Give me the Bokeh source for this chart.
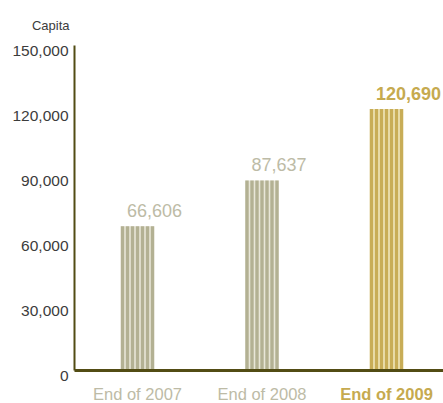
from bokeh.plotting import figure
from bokeh.models import ColumnDataSource, Range1d, Label
from bokeh.transform import dodge
from bokeh.embed import file_html
from bokeh.resources import INLINE

# ---- data ----
categories = ["End of 2007", "End of 2008", "End of 2009"]
values = [66606, 87637, 120690]
value_labels = ["66,606", "87,637", "120,690"]
y_ticks = [0, 30000, 60000, 90000, 120000, 150000]
y_tick_labels = ["0", "30,000", "60,000", "90,000", "120,000", "150,000"]
y_max = 150000
unit_label = "Capita"

# ---- styles ----
FONT = "Liberation Sans"
stripe_colors = ["#b3b193", "#b3b193", "#c8ad57"]
gap_colors = ["#e8e6d8", "#e8e6d8", "#f0e6bc"]
text_colors = ["#bdbba6", "#bdbba6", "#c6aa4f"]
font_styles = ["normal", "normal", "bold"]
AXIS = "#524c14"

W, H = 443, 403
PX_X = 124.5                 # pixels per category step
X0_PX = 137                  # pixel of first category centre
AX_LEFT_PX = 74              # y-axis position in pixels
PX_Y = 325 / y_max           # pixels per unit
Y0_PX = 370                  # pixel row of zero (from top)

x_start = -X0_PX / PX_X
x_end = (W - X0_PX) / PX_X
y_start = -(H - Y0_PX) / PX_Y
y_end = Y0_PX / PX_Y
x_axis = x_start + AX_LEFT_PX / PX_X

xs = list(range(len(categories)))
src = ColumnDataSource(dict(x=xs, value=values, stripe=stripe_colors, gap=gap_colors))

p = figure(width=W, height=H, output_backend="svg", toolbar_location=None,
           x_range=Range1d(x_start, x_end), y_range=Range1d(y_start, y_end),
           min_border=0)
p.axis.visible = False
p.outline_line_color = None
p.grid.visible = False
p.background_fill_color = "white"
p.border_fill_color = "white"

# bar background (gaps)
p.vbar(x="x", top="value", bottom=0, width=33.4 / PX_X, source=src,
       fill_color="gap", line_color=None)
# stripes
pitch = 5 / PX_X
for i in range(7):
    p.vbar(x=dodge("x", (i - 3) * pitch), top="value", bottom=0,
           width=3.4 / PX_X, source=src, fill_color="stripe", line_color=None)

# axis lines
p.segment(x0=[x_axis], y0=[0], x1=[x_axis], y1=[y_max], line_color=AXIS, line_width=2)
p.segment(x0=[x_axis], y0=[0], x1=[x_end], y1=[0], line_color=AXIS, line_width=3)

# y tick labels
for t, lab in zip(y_ticks, y_tick_labels):
    p.add_layout(Label(x=x_axis, y=t, x_offset=-6, y_offset=-5, text=lab,
                       text_align="right", text_baseline="middle",
                       text_font=FONT, text_font_size="15.5px",
                       text_color="#3c3c3c"))

# unit label
p.add_layout(Label(x=x_axis, y=y_max, x_offset=-5, y_offset=20, text=unit_label,
                   text_align="right", text_baseline="middle",
                   text_font=FONT, text_font_size="13px", text_color="#3c3c3c"))

# value and category labels
for x, v, vl, cat, tc, fs in zip(xs, values, value_labels, categories, text_colors, font_styles):
    p.add_layout(Label(x=x, y=v, x_offset=-10.5, y_offset=16, text=vl,
                       text_align="left", text_baseline="middle",
                       text_font=FONT, text_font_size="18px",
                       text_font_style=fs, text_color=tc))
    p.add_layout(Label(x=x, y=0, y_offset=-23, text=cat,
                       text_align="center", text_baseline="middle",
                       text_font=FONT, text_font_size="16.5px",
                       text_font_style=fs, text_color=tc))

open("out.html", "w").write(file_html(p, INLINE))
